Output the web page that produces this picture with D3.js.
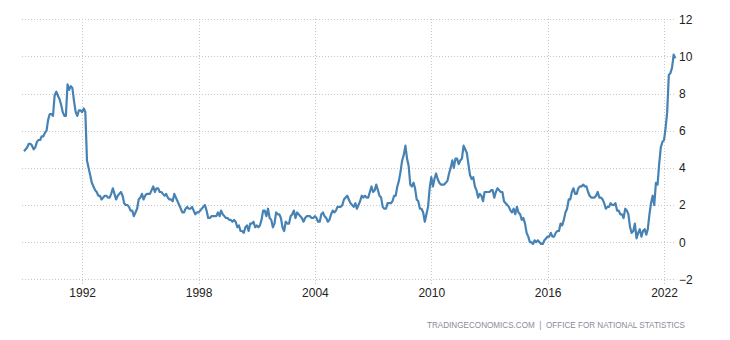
<!DOCTYPE html>
<html>
<head>
<meta charset="utf-8">
<script src="https://cdn.jsdelivr.net/npm/d3@7"></script>
<style>
  body { margin: 0; background: #fff; }
  text { font-family: Arial, "Liberation Sans", sans-serif; }
</style>
</head>
<body>
<div id="chart"></div>
<script>
// UK inflation rate (CPI, % yoy), monthly from Jan 1989
var startYear = 1989;
var cpiValues = [
  4.9, 5.0, 5.1, 5.3, 5.3, 5.2, 5.0, 5.1, 5.4, 5.5, 5.5, 5.7, // 1989
  5.7, 5.9, 6.0, 6.6, 6.9, 6.9, 6.8, 7.9, 8.1, 7.9, 7.7, 7.4, // 1990
  7.0, 6.8, 6.8, 8.5, 8.2, 8.4, 8.3, 7.6, 7.0, 6.8, 7.1, 7.1, // 1991
  7.0, 7.2, 7.0, 4.4, 4.0, 3.6, 3.2, 3.0, 2.8, 2.7, 2.5, 2.5, // 1992
  2.3, 2.4, 2.5, 2.5, 2.4, 2.4, 2.6, 2.9, 2.6, 2.3, 2.5, 2.6, // 1993
  2.7, 2.5, 2.1, 2.0, 2.0, 1.9, 1.7, 1.7, 1.4, 1.6, 1.8, 2.3, // 1994
  2.4, 2.6, 2.3, 2.5, 2.6, 2.6, 2.6, 2.8, 3.0, 2.7, 2.9, 2.9, // 1995
  2.7, 2.7, 2.6, 2.5, 2.6, 2.4, 2.3, 2.3, 2.2, 2.6, 2.4, 2.2, // 1996
  2.0, 1.8, 1.6, 1.6, 1.8, 1.9, 1.8, 1.8, 1.9, 1.7, 1.5, 1.6, // 1997
  1.6, 1.7, 1.8, 1.9, 2.0, 1.7, 1.3, 1.3, 1.4, 1.4, 1.4, 1.4, // 1998
  1.6, 1.4, 1.7, 1.5, 1.4, 1.3, 1.3, 1.2, 1.2, 1.1, 1.2, 1.1, // 1999
  0.8, 0.9, 0.6, 0.6, 0.5, 0.8, 0.9, 0.6, 1.0, 1.0, 1.1, 0.8, // 2000
  0.9, 0.8, 0.9, 1.2, 1.7, 1.7, 1.4, 1.8, 1.3, 1.2, 0.8, 1.0, // 2001
  1.6, 1.5, 1.5, 1.3, 0.8, 0.6, 1.1, 1.0, 1.0, 1.4, 1.5, 1.7, // 2002
  1.3, 1.6, 1.5, 1.4, 1.3, 1.1, 1.3, 1.4, 1.4, 1.4, 1.3, 1.3, // 2003
  1.4, 1.3, 1.1, 1.1, 1.5, 1.6, 1.4, 1.3, 1.1, 1.2, 1.5, 1.7, // 2004
  1.6, 1.7, 1.9, 1.9, 1.9, 2.0, 2.3, 2.4, 2.5, 2.3, 2.1, 2.0, // 2005
  1.9, 2.1, 1.8, 2.0, 2.2, 2.5, 2.4, 2.5, 2.4, 2.4, 2.7, 3.0, // 2006
  2.7, 2.8, 3.1, 2.8, 2.5, 2.4, 1.9, 1.8, 1.8, 2.1, 2.1, 2.1, // 2007
  2.2, 2.5, 2.5, 3.0, 3.3, 3.8, 4.4, 4.7, 5.2, 4.5, 4.1, 3.1, // 2008
  3.0, 3.2, 2.9, 2.3, 2.2, 1.8, 1.8, 1.6, 1.1, 1.5, 1.9, 2.9, // 2009
  3.5, 3.0, 3.4, 3.7, 3.4, 3.2, 3.1, 3.1, 3.1, 3.2, 3.3, 3.7, // 2010
  4.0, 4.4, 4.0, 4.5, 4.5, 4.2, 4.4, 4.5, 5.2, 5.0, 4.8, 4.2, // 2011
  3.6, 3.4, 3.5, 3.0, 2.8, 2.4, 2.6, 2.5, 2.2, 2.7, 2.7, 2.7, // 2012
  2.7, 2.8, 2.8, 2.4, 2.7, 2.9, 2.8, 2.7, 2.7, 2.2, 2.1, 2.0, // 2013
  1.9, 1.7, 1.6, 1.8, 1.5, 1.9, 1.6, 1.5, 1.2, 1.3, 1.0, 0.5, // 2014
  0.3, 0.0, 0.0, -0.1, 0.1, 0.0, 0.1, 0.0, -0.1, -0.1, 0.1, 0.2, // 2015
  0.3, 0.3, 0.5, 0.3, 0.3, 0.5, 0.6, 0.6, 1.0, 0.9, 1.2, 1.6, // 2016
  1.8, 2.3, 2.3, 2.7, 2.9, 2.6, 2.6, 2.9, 3.0, 3.0, 3.1, 3.0, // 2017
  3.0, 2.7, 2.5, 2.4, 2.4, 2.4, 2.5, 2.7, 2.4, 2.4, 2.3, 2.1, // 2018
  1.8, 1.9, 1.9, 2.1, 2.0, 2.0, 2.1, 1.7, 1.7, 1.5, 1.5, 1.3, // 2019
  1.8, 1.7, 1.5, 0.8, 0.5, 0.6, 1.0, 0.2, 0.5, 0.7, 0.3, 0.6, // 2020
  0.7, 0.4, 0.7, 1.5, 2.1, 2.5, 2.0, 3.2, 3.1, 4.2, 5.1, 5.4, // 2021
  5.5, 6.2, 7.0, 9.0, 9.1, 9.4, 10.1, 9.9                     // 2022
];
var xTickYears = [1992, 1998, 2004, 2010, 2016, 2022];
var yTicks = [-2, 0, 2, 4, 6, 8, 10, 12];
var sourceText = "TRADINGECONOMICS.COM  |  OFFICE FOR NATIONAL STATISTICS";

let svgWidth = 730;
let svgHeight = 340;

let svg = d3.select("#chart")
  .append("svg")
  .attr("width", svgWidth)
  .attr("height", svgHeight);

// build the series with dates
var data = cpiValues.map(function(v, i) {
  return { date: new Date(startYear, i, 1), value: v };
});

var xScale = d3.scaleTime()
  .domain([data[0].date, data[data.length - 1].date])
  .range([24, 675.3]);

var yScale = d3.scaleLinear()
  .domain([-2, 12])
  .range([279.3, 19.3]);

var gridLeft = 22;
var gridRight = 676;

// horizontal grid lines
svg.append("g")
  .selectAll("line")
  .data(yTicks)
  .enter()
  .append("line")
  .attr("x1", gridLeft)
  .attr("x2", gridRight)
  .attr("y1", d => Math.round(yScale(d)) + 0.5)
  .attr("y2", d => Math.round(yScale(d)) + 0.5)
  .attr("stroke", "#c8c8c8")
  .attr("stroke-dasharray", "1,2");

// vertical grid lines
svg.append("g")
  .selectAll("line")
  .data(xTickYears)
  .enter()
  .append("line")
  .attr("x1", d => Math.round(xScale(new Date(d, 0, 1))) + 0.5)
  .attr("x2", d => Math.round(xScale(new Date(d, 0, 1))) + 0.5)
  .attr("y1", 19)
  .attr("y2", 285)
  .attr("stroke", "#c8c8c8")
  .attr("stroke-dasharray", "1,2");

// x axis labels
var xAxis = d3.axisBottom(xScale)
  .tickValues(xTickYears.map(y => new Date(y, 0, 1)))
  .tickFormat(d3.timeFormat("%Y"))
  .tickSize(0)
  .tickPadding(0);

var xAxisGroup = svg.append("g")
  .attr("transform", "translate(0, 288)")
  .call(xAxis);
xAxisGroup.select(".domain").remove();
xAxisGroup.selectAll("text")
  .attr("font-size", "12px")
  .attr("font-family", "Arial, 'Liberation Sans', sans-serif")
  .attr("fill", "#222");

// y axis labels on the right
var yAxis = d3.axisRight(yScale)
  .tickValues(yTicks)
  .tickSize(0)
  .tickPadding(0);

var yAxisGroup = svg.append("g")
  .attr("transform", "translate(679, 0)")
  .call(yAxis);
yAxisGroup.select(".domain").remove();
yAxisGroup.selectAll("text")
  .attr("font-size", "12px")
  .attr("font-family", "Arial, 'Liberation Sans', sans-serif")
  .attr("fill", "#222");

// the line
var line = d3.line()
  .x(d => xScale(d.date))
  .y(d => yScale(d.value));

svg.append("path")
  .datum(data)
  .attr("d", line)
  .attr("fill", "none")
  .attr("stroke", "#4682b4")
  .attr("stroke-width", 2.2)
  .attr("stroke-linejoin", "round");

// source footer
svg.append("text")
  .attr("x", 427)
  .attr("y", 328)
  .attr("font-size", "8.5px")
  .attr("fill", "#8a8a9a")
  .attr("textLength", 258)
  .attr("lengthAdjust", "spacingAndGlyphs")
  .style("white-space", "pre")
  .text(sourceText);
</script>
</body>
</html>
